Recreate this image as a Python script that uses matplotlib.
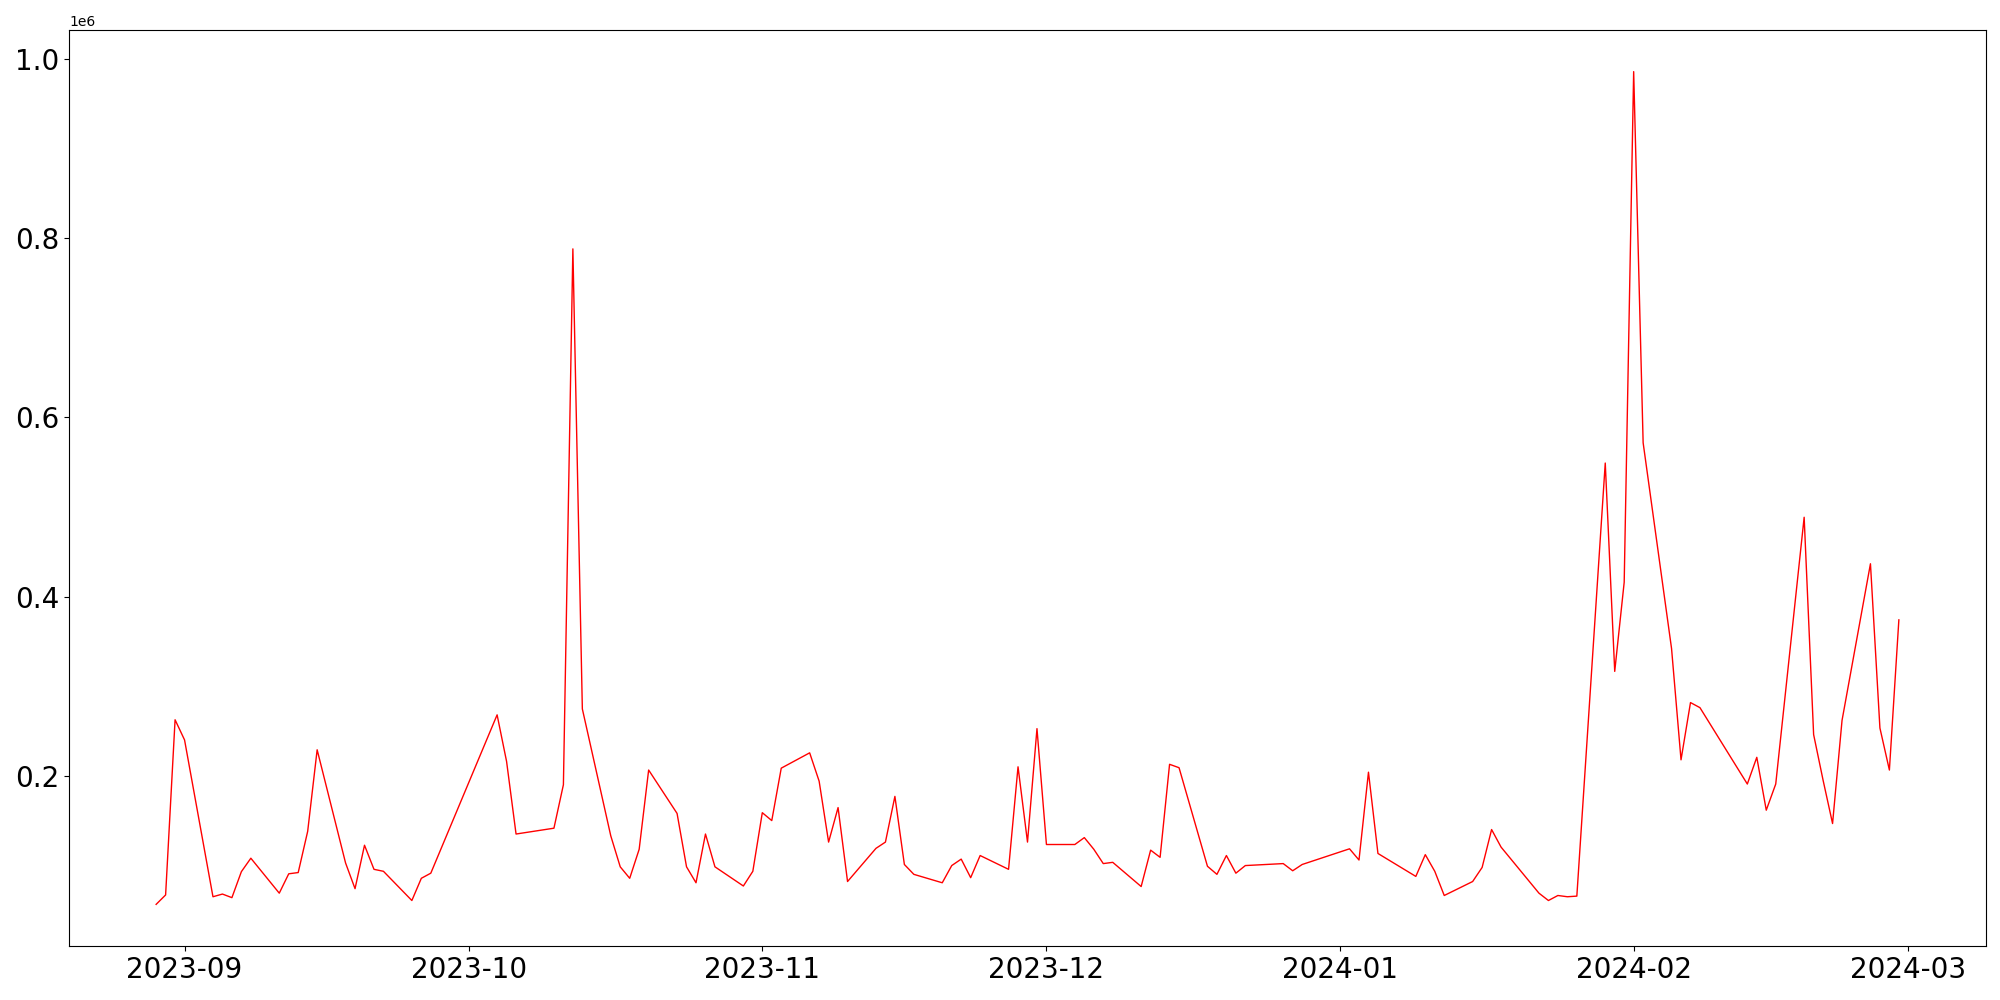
import matplotlib
matplotlib.use("Agg")
import matplotlib.pyplot as plt
import matplotlib.dates as mdates
import pandas as pd

# Dates and values
dates = [
    "2023-08-29", "2023-08-30", "2023-08-31", "2023-09-01",
    "2023-09-04", "2023-09-05", "2023-09-06", "2023-09-07", "2023-09-08",
    "2023-09-11", "2023-09-12", "2023-09-13", "2023-09-14", "2023-09-15",
    "2023-09-18", "2023-09-19", "2023-09-20", "2023-09-21", "2023-09-22",
    "2023-09-25", "2023-09-26", "2023-09-27",
    "2023-10-04", "2023-10-05", "2023-10-06",
    "2023-10-10", "2023-10-11", "2023-10-12", "2023-10-13",
    "2023-10-16", "2023-10-17", "2023-10-18", "2023-10-19", "2023-10-20",
    "2023-10-23", "2023-10-24", "2023-10-25", "2023-10-26", "2023-10-27",
    "2023-10-30", "2023-10-31", "2023-11-01", "2023-11-02", "2023-11-03",
    "2023-11-06", "2023-11-07", "2023-11-08", "2023-11-09", "2023-11-10",
    "2023-11-13", "2023-11-14", "2023-11-15", "2023-11-16", "2023-11-17",
    "2023-11-20", "2023-11-21", "2023-11-22", "2023-11-23", "2023-11-24",
    "2023-11-27", "2023-11-28", "2023-11-29", "2023-11-30", "2023-12-01",
    "2023-12-04", "2023-12-05", "2023-12-06", "2023-12-07", "2023-12-08",
    "2023-12-11", "2023-12-12", "2023-12-13", "2023-12-14", "2023-12-15",
    "2023-12-18", "2023-12-19", "2023-12-20", "2023-12-21", "2023-12-22",
    "2023-12-26", "2023-12-27", "2023-12-28",
    "2024-01-02", "2024-01-03", "2024-01-04", "2024-01-05",
    "2024-01-09", "2024-01-10", "2024-01-11", "2024-01-12",
    "2024-01-15", "2024-01-16", "2024-01-17", "2024-01-18",
    "2024-01-22", "2024-01-23", "2024-01-24", "2024-01-25", "2024-01-26",
    "2024-01-29", "2024-01-30", "2024-01-31", "2024-02-01", "2024-02-02",
    "2024-02-05", "2024-02-06", "2024-02-07", "2024-02-08",
    "2024-02-13", "2024-02-14", "2024-02-15", "2024-02-16",
    "2024-02-19", "2024-02-20", "2024-02-21", "2024-02-22", "2024-02-23",
    "2024-02-26", "2024-02-27", "2024-02-28", "2024-02-29",
]

values = [
    56500, 67000, 262500, 240000,
    65000, 68000, 64000, 93000, 108000,
    69000, 90600, 92000, 138000, 229000,
    102700, 74000, 122500, 95600, 93400,
    60800, 85600, 91300,
    268000, 216000, 135000,
    141500, 190000, 788000, 274600,
    133000, 98400, 85600, 118000, 206400,
    158000, 98400, 80600, 135000, 98400,
    77000, 93400, 158800, 150000, 208500,
    225600, 194000, 126000, 164500, 82000,
    119000, 126000, 177000, 101000, 90000,
    80600, 99800, 107000, 86300, 111000,
    95600, 210000, 126000, 252600, 123300,
    123300, 131000, 118000, 102000, 103400,
    76400, 117000, 109000, 212800, 209000,
    99000, 90000, 111000, 91300, 99800,
    102000, 94000, 101000,
    118500, 106000, 204000, 113300,
    87700, 112000, 93400, 66400,
    82000, 97700, 140000, 120400,
    69000, 60800, 66400, 65000, 65700,
    549000, 316500, 416000, 985800, 571600,
    342000, 217800, 281700, 276000,
    190800, 220600, 161600, 190800,
    488500, 246000, 195000, 146700, 261800,
    436600, 253300, 206400, 374000,
]

x = pd.to_datetime(dates)

fig, ax = plt.subplots(figsize=(20, 10), dpi=100)
ax.plot(x, values, color="red", linewidth=1)

ax.xaxis.set_major_locator(mdates.MonthLocator())
ax.xaxis.set_major_formatter(mdates.DateFormatter("%Y-%m"))
ax.tick_params(axis="both", labelsize=20)

fig.subplots_adjust(left=0.0345, right=0.993, bottom=0.054, top=0.97)
fig.savefig("out.png")
